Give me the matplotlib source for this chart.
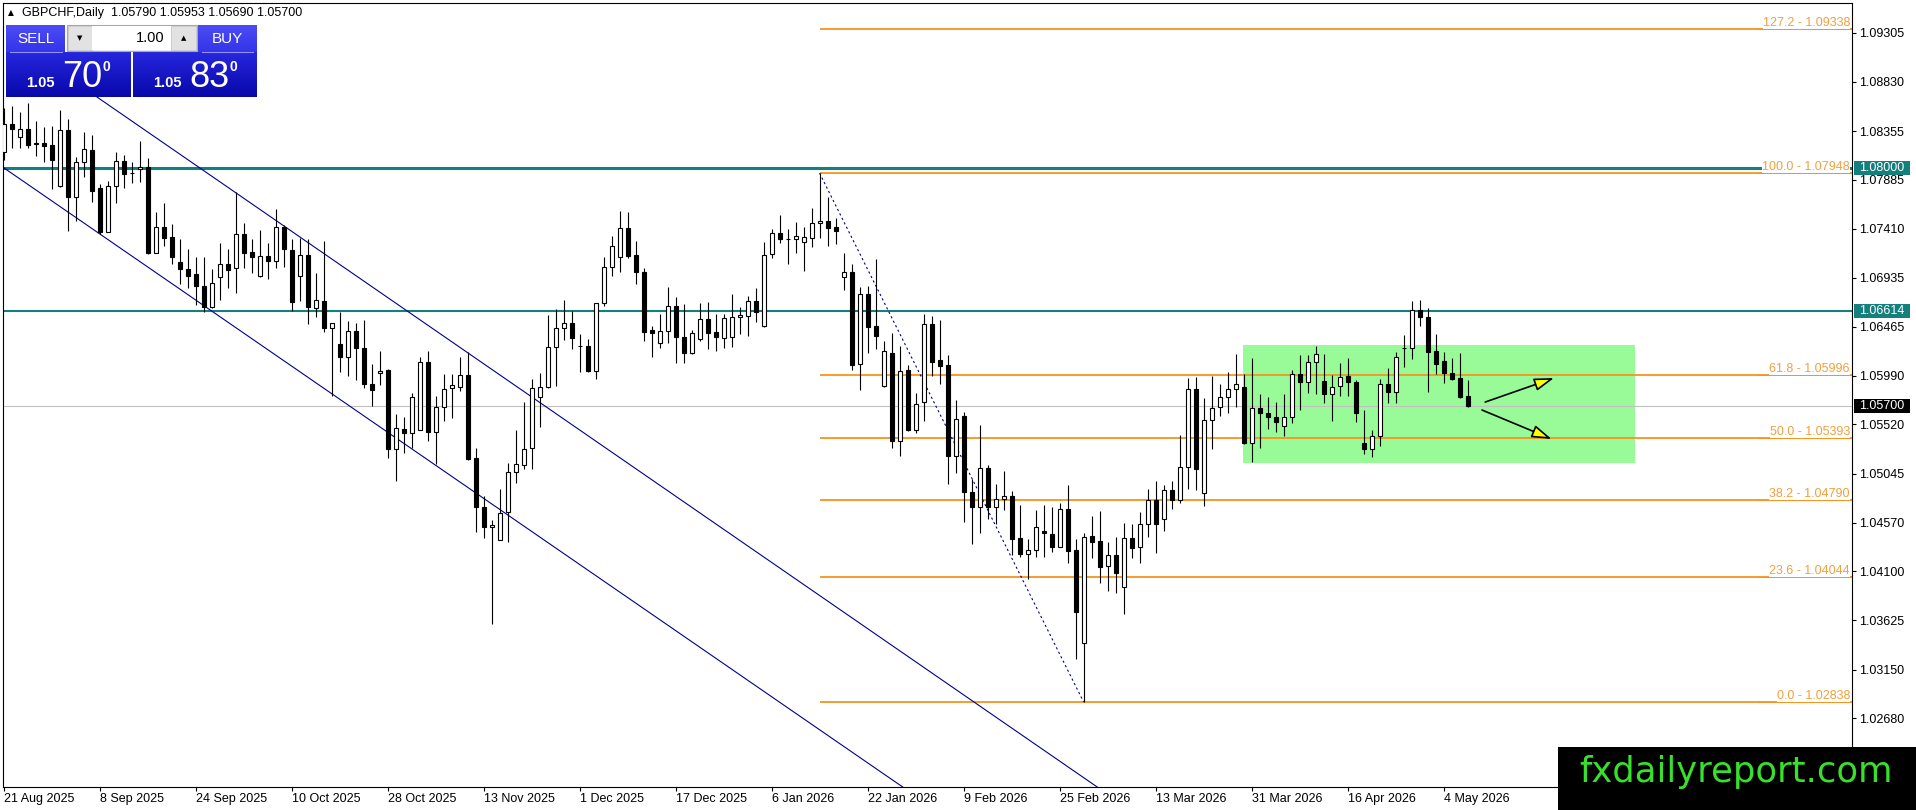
import numpy as np
import matplotlib
matplotlib.use('Agg')
import matplotlib.pyplot as plt
from matplotlib.patches import Rectangle
from matplotlib.colors import to_rgb

plt.rcParams['font.family'] = ['Liberation Sans', 'DejaVu Sans']
plt.rcParams['font.size'] = 9

# ---- data ----
symbol = 'GBPCHF,Daily'
last_ohlc = [1.05790, 1.05953, 1.05690, 1.05700]

opens = [1.08156, 1.08420, 1.08300, 1.08375, 1.08230, 1.08236, 1.08220, 1.07824, 1.08365, 1.07714,
         1.08053, 1.08172, 1.07801, 1.07383, 1.07824, 1.08065, 1.07946, 1.07988, 1.08008, 1.07180,
         1.07425, 1.07331, 1.07087, 1.07022, 1.06974, 1.06858, 1.06652, 1.06948, 1.07071, 1.07029,
         1.07357, 1.07183, 1.06957, 1.07147, 1.07102, 1.07424, 1.07205, 1.06957, 1.07157, 1.06642,
         1.06712, 1.06448, 1.06297, 1.06175, 1.06423, 1.06255, 1.05911, 1.06020, 1.06046, 1.05280,
         1.05473, 1.05434, 1.05466, 1.06120, 1.05444, 1.05685, 1.05869, 1.05885, 1.05997, 1.05199,
         1.04719, 1.04526, 1.04404, 1.04671, 1.05057, 1.05128, 1.05289, 1.05782, 1.05879, 1.06265,
         1.06449, 1.06497, 1.06278, 1.06278, 1.06040, 1.06696, 1.07044, 1.07141, 1.07414, 1.07157,
         1.06989, 1.06432, 1.06304, 1.06426, 1.06668, 1.06362, 1.06207, 1.06342, 1.06535, 1.06410,
         1.06352, 1.06368, 1.06555, 1.06572, 1.06713, 1.06475, 1.07164, 1.07367, 1.07309, 1.07309,
         1.07280, 1.07319, 1.07463, 1.07486, 1.07431, 1.06948, 1.06990, 1.06101, 1.06778, 1.06472,
         1.05895, 1.06208, 1.05364, 1.06047, 1.05467, 1.05734, 1.06488, 1.06143, 1.06095, 1.05219,
         1.05602, 1.04865, 1.04720, 1.05096, 1.04726, 1.04797, 1.04832, 1.04420, 1.04265, 1.04307,
         1.04491, 1.04458, 1.04339, 1.04700, 1.04307, 1.03406, 1.04442, 1.04394, 1.04156, 1.04259,
         1.03947, 1.04420, 1.04339, 1.04555, 1.04790, 1.04607, 1.04887, 1.04790, 1.05106, 1.05859,
         1.04861, 1.05563, 1.05685, 1.05782, 1.05859, 1.05878, 1.05338, 1.05676, 1.05627, 1.05589,
         1.05505, 1.05589, 1.06004, 1.05933, 1.06126, 1.05943, 1.05811, 1.05891, 1.05988, 1.05933,
         1.05338, 1.05280, 1.05412, 1.05908, 1.05837, 1.06258, 1.06255, 1.06626, 1.06555, 1.06229,
         1.06133, 1.06014, 1.05965, 1.05790]
highs = [1.08574, 1.08597, 1.08542, 1.08629, 1.08452, 1.08397, 1.08404, 1.08558, 1.08471, 1.08107,
         1.08346, 1.08317, 1.07840, 1.07872, 1.08156, 1.08123, 1.08059, 1.08262, 1.08091, 1.07570,
         1.07663, 1.07457, 1.07312, 1.07215, 1.07135, 1.07135, 1.07022, 1.07276, 1.07215, 1.07769,
         1.07463, 1.07308, 1.07398, 1.07276, 1.07598, 1.07447, 1.07308, 1.07324, 1.07308, 1.06980,
         1.07292, 1.06503, 1.06603, 1.06519, 1.06497, 1.06529, 1.06101, 1.06229, 1.06052, 1.05621,
         1.05589, 1.05827, 1.06175, 1.06229, 1.05795, 1.06007, 1.06007, 1.06175, 1.06223, 1.05289,
         1.04832, 1.04597, 1.04893, 1.05144, 1.05466, 1.05740, 1.05956, 1.06014, 1.06577, 1.06632,
         1.06722, 1.06619, 1.06394, 1.06342, 1.06696, 1.07134, 1.07340, 1.07582, 1.07575, 1.07292,
         1.07028, 1.06471, 1.06587, 1.06845, 1.06748, 1.06680, 1.06432, 1.06690, 1.06700, 1.06584,
         1.06587, 1.06777, 1.06659, 1.06762, 1.06836, 1.07280, 1.07406, 1.07544, 1.07409, 1.07473,
         1.07425, 1.07615, 1.07948, 1.07721, 1.07512, 1.07180, 1.07071, 1.06852, 1.06861, 1.07119,
         1.06327, 1.06401, 1.06279, 1.06095, 1.05821, 1.06588, 1.06572, 1.06530, 1.06192, 1.05757,
         1.05644, 1.04994, 1.05515, 1.05128, 1.04945, 1.05070, 1.04877, 1.04742, 1.04414, 1.04694,
         1.04742, 1.04719, 1.04765, 1.04935, 1.04414, 1.04468, 1.04636, 1.04687, 1.04388, 1.04436,
         1.04571, 1.04558, 1.04678, 1.04896, 1.04974, 1.04935, 1.04974, 1.05418, 1.05965, 1.05975,
         1.05772, 1.05988, 1.05908, 1.06023, 1.06200, 1.06004, 1.06159, 1.05811, 1.05782, 1.05734,
         1.05814, 1.06046, 1.06191, 1.06191, 1.06278, 1.06200, 1.05998, 1.06110, 1.06159, 1.05949,
         1.05660, 1.05466, 1.05956, 1.06062, 1.06217, 1.06384, 1.06716, 1.06722, 1.06648, 1.06394,
         1.06217, 1.06159, 1.06207, 1.05953]
lows = [1.08075, 1.08194, 1.08194, 1.08188, 1.08117, 1.08059, 1.07792, 1.07817, 1.07392, 1.07489,
        1.07914, 1.07673, 1.07357, 1.07376, 1.07663, 1.07801, 1.07856, 1.07859, 1.07164, 1.07180,
        1.07248, 1.07067, 1.06877, 1.06842, 1.06674, 1.06610, 1.06642, 1.06723, 1.06842, 1.06787,
        1.07029, 1.06986, 1.06947, 1.06928, 1.07034, 1.07044, 1.06616, 1.06712, 1.06487, 1.06561,
        1.06416, 1.05798, 1.06030, 1.05991, 1.05949, 1.05875, 1.05701, 1.05901, 1.05199, 1.04977,
        1.05241, 1.05289, 1.05466, 1.05363, 1.05138, 1.05556, 1.05585, 1.05846, 1.05176, 1.04484,
        1.04420, 1.03592, 1.04404, 1.04388, 1.04951, 1.05090, 1.05090, 1.05499, 1.05869, 1.05891,
        1.06336, 1.06249, 1.06023, 1.06023, 1.05956, 1.06668, 1.06954, 1.06996, 1.07125, 1.06874,
        1.06329, 1.06175, 1.06255, 1.06304, 1.06110, 1.06110, 1.06201, 1.06326, 1.06246, 1.06233,
        1.06255, 1.06271, 1.06391, 1.06378, 1.06514, 1.06465, 1.07125, 1.07270, 1.07071, 1.07174,
        1.07006, 1.07238, 1.07325, 1.07248, 1.07264, 1.06820, 1.06047, 1.05854, 1.06214, 1.06246,
        1.05879, 1.05290, 1.05219, 1.05460, 1.05441, 1.05554, 1.05992, 1.05911, 1.04946, 1.05049,
        1.04572, 1.04363, 1.04475, 1.04603, 1.04558, 1.04694, 1.04259, 1.04236, 1.04024, 1.04236,
        1.04243, 1.04291, 1.04333, 1.04178, 1.03254, 1.02838, 1.04227, 1.03985, 1.03914, 1.03895,
        1.03686, 1.04233, 1.04185, 1.04436, 1.04281, 1.04494, 1.04703, 1.04764, 1.04893, 1.04887,
        1.04735, 1.05283, 1.05605, 1.05634, 1.05692, 1.05328, 1.05154, 1.05289, 1.05473, 1.05450,
        1.05412, 1.05531, 1.05660, 1.05821, 1.05811, 1.05730, 1.05556, 1.05798, 1.05798, 1.05547,
        1.05231, 1.05209, 1.05315, 1.05730, 1.05724, 1.06078, 1.06152, 1.06474, 1.05837, 1.06004,
        1.05924, 1.05949, 1.05772, 1.05690]
closes = [1.08420, 1.08371, 1.08375, 1.08220, 1.08236, 1.08210, 1.08072, 1.08365, 1.07714, 1.08053,
          1.08181, 1.07779, 1.07383, 1.07824, 1.08065, 1.07943, 1.07950, 1.08008, 1.07180, 1.07425,
          1.07325, 1.07141, 1.07025, 1.06958, 1.06858, 1.06652, 1.06884, 1.07067, 1.07016, 1.07357,
          1.07180, 1.07134, 1.07147, 1.07102, 1.07424, 1.07211, 1.06699, 1.07157, 1.06651, 1.06722,
          1.06448, 1.06503, 1.06175, 1.06423, 1.06262, 1.05907, 1.05853, 1.06039, 1.05280, 1.05482,
          1.05434, 1.05782, 1.06120, 1.05450, 1.05685, 1.05859, 1.05901, 1.05997, 1.05186, 1.04719,
          1.04526, 1.04549, 1.04662, 1.05064, 1.05135, 1.05280, 1.05869, 1.05879, 1.06265, 1.06449,
          1.06497, 1.06352, 1.06278, 1.06036, 1.06696, 1.07044, 1.07247, 1.07414, 1.07150, 1.06989,
          1.06416, 1.06400, 1.06426, 1.06668, 1.06362, 1.06207, 1.06407, 1.06535, 1.06407, 1.06368,
          1.06545, 1.06561, 1.06578, 1.06713, 1.06610, 1.07158, 1.07367, 1.07309, 1.07312, 1.07341,
          1.07328, 1.07463, 1.07486, 1.07422, 1.07393, 1.06990, 1.06095, 1.06778, 1.06465, 1.06378,
          1.06230, 1.05364, 1.06037, 1.05467, 1.05715, 1.06488, 1.06127, 1.06089, 1.05219, 1.05570,
          1.04862, 1.04720, 1.05097, 1.04726, 1.04797, 1.04832, 1.04414, 1.04265, 1.04307, 1.04533,
          1.04468, 1.04339, 1.04700, 1.04301, 1.03711, 1.04430, 1.04388, 1.04146, 1.04259, 1.04088,
          1.04420, 1.04330, 1.04555, 1.04790, 1.04558, 1.04887, 1.04790, 1.05106, 1.05859, 1.05090,
          1.05563, 1.05676, 1.05782, 1.05859, 1.05908, 1.05338, 1.05676, 1.05627, 1.05589, 1.05547,
          1.05589, 1.06004, 1.05933, 1.06126, 1.06200, 1.05811, 1.05885, 1.05982, 1.05927, 1.05627,
          1.05280, 1.05412, 1.05908, 1.05830, 1.06175, 1.06262, 1.06626, 1.06561, 1.06223, 1.06101,
          1.06014, 1.05956, 1.05788, 1.05700]

date_labels = ['21 Aug 2025', '8 Sep 2025', '24 Sep 2025', '10 Oct 2025', '28 Oct 2025',
               '13 Nov 2025', '1 Dec 2025', '17 Dec 2025', '6 Jan 2026', '22 Jan 2026',
               '9 Feb 2026', '25 Feb 2026', '13 Mar 2026', '31 Mar 2026', '16 Apr 2026',
               '4 May 2026']
bars_per_label = 12

price_ticks = [1.09305, 1.08830, 1.08355, 1.07885, 1.07410, 1.06935, 1.06465, 1.05990,
               1.05520, 1.05045, 1.04570, 1.04100, 1.03625, 1.03150, 1.02680]

fib_levels = [127.2, 100.0, 61.8, 50.0, 38.2, 23.6, 0.0]
fib_prices = [1.09338, 1.07948, 1.05996, 1.05393, 1.04790, 1.04044, 1.02838]
fib_from_bar, fib_to_bar = 102, 135

teal_levels = [1.08000, 1.06614]
current_price = 1.05700
bid_digits, ask_digits = '70', '83'
lot_size = '1.00'

# trend channel, range box and arrows (bar index, price)
channel_upper = ([10, 140], [1.08773, 1.01840])
channel_lower = ([-1, 115], [1.08054, 1.01877])
range_box = ([154.9, 203.9], [1.05150, 1.06287])
arrow_up = ([185.2, 193.8], [1.05736, 1.05968])
arrow_down = ([184.8, 193.5], [1.05659, 1.05379])

# ---- figure ----
W, H, DPI = 1916, 810, 100
fig = plt.figure(figsize=(W / DPI, H / DPI), dpi=DPI, facecolor='white')
ax_l, ax_r, ax_t, ax_b = 2.7, 1852, 2.7, 787
ax = fig.add_axes([ax_l / W, (H - ax_b) / H, (ax_r - ax_l) / W, (ax_b - ax_t) / H])
ax.set_xlim(-0.11, 231.05)
ax.set_ylim(1.02016, 1.09595)


def fx(px):
    # pixel column -> axes fraction
    return (px - ax_l) / (ax_r - ax_l)


px_price = (1.09595 - 1.02016) / (ax_b - ax_t)
tr = ax.get_yaxis_transform()

teal = '#13807e'
navy = '#000090'
fib_col = '#F7931E'
fib_txt = '#F0A040'

# range box
ax.add_patch(Rectangle((range_box[0][0], range_box[1][0]), range_box[0][1] - range_box[0][0],
                       range_box[1][1] - range_box[1][0], fc='#98FB98', ec='none', zorder=1))

ax.axhline(current_price, color='#C0C0C0', lw=0.8, zorder=1.5)
ax.axhline(teal_levels[0], color=teal, lw=2.2, zorder=2)
ax.axhline(teal_levels[1], color=teal, lw=1.5, zorder=2)

ax.hlines(fib_prices, fib_from_bar, 232, color=fib_col, lw=1.3, zorder=2)
ax.plot([fib_from_bar, fib_to_bar], [fib_prices[1], fib_prices[-1]], color=navy, lw=0.8,
        ls=(0, (2, 2.5)), zorder=2.5)

ax.plot(*channel_upper, color=navy, lw=0.8, zorder=2.5)
ax.plot(*channel_lower, color=navy, lw=0.8, zorder=2.5)

# candles
o, h, l, c = (np.array(v) for v in (opens, highs, lows, closes))
x = np.arange(len(o))
bull = c >= o
ax.vlines(x, l, h, color='black', lw=0.8, zorder=3)
body_lo = np.minimum(o, c)
body_h = np.maximum(np.abs(c - o), 0.00003)
ax.bar(x, body_h, bottom=body_lo, width=0.5, color=np.where(bull, 'white', 'black'),
       edgecolor='black', linewidth=0.8, zorder=4)

# arrows
for arr in (arrow_up, arrow_down):
    ax.annotate('', xy=(arr[0][1], arr[1][1]), xytext=(arr[0][0], arr[1][0]),
                arrowprops=dict(arrowstyle='-|>,head_length=1.0,head_width=0.32', mutation_scale=12,
                                fc='#FFFF00', ec='black', lw=1.2, shrinkA=0, shrinkB=0), zorder=5)

# fib labels (white background hides part of the line, as in the terminal)
for lv, pr in zip(fib_levels, fib_prices):
    ax.text(fx(1850), pr + 3 * px_price, f'{lv:.1f} - {pr:.5f}', transform=tr, ha='right',
            va='baseline', color=fib_txt, zorder=6, bbox=dict(fc='white', ec='none', pad=0))
    ax.plot([fx(1758), fx(1852)], [pr, pr], transform=tr, color=fib_col, lw=0.7, zorder=6.5)

# axes styling
for s in ax.spines.values():
    s.set_color('black')
    s.set_linewidth(0.8)
ax.yaxis.tick_right()
ax.set_yticks(price_ticks)
ax.set_yticklabels([f'{p:.5f}' for p in price_ticks])
ax.tick_params(axis='y', direction='out', length=3, width=0.8, pad=2.2, labelsize=9)
ax.set_xticks(range(0, bars_per_label * len(date_labels), bars_per_label))
ax.set_xticklabels(date_labels, ha='left')
ax.tick_params(axis='x', direction='out', length=3, width=0.8, pad=1.5, labelsize=9)


def axis_tag(price, fc):
    hh = 7 * px_price
    ax.add_patch(Rectangle((fx(1854), price - hh), fx(1910) - fx(1854), 2 * hh, transform=tr,
                           fc=fc, ec='none', clip_on=False, zorder=6))
    ax.text(fx(1859), price, f'{price:.5f}', transform=tr, color='white', ha='left',
            va='center', zorder=7, clip_on=False)


for lv in teal_levels:
    axis_tag(lv, teal)
axis_tag(current_price, 'black')

# ---- overlay in pixel coordinates: header, trade panel, watermark ----
ov = fig.add_axes([0, 0, 1, 1], zorder=10)
ov.axis('off')


def grad_box(x0, y0, x1, y1, top, bottom):
    t = np.linspace(0, 1, 32)[:, None, None]
    col = np.array(to_rgb(top)) * (1 - t) + np.array(to_rgb(bottom)) * t
    ov.imshow(col, extent=(x0, x1, y1, y0), aspect='auto', interpolation='bilinear', zorder=1)


ov.text(11, 13, '\u25B2', fontsize=5.5, ha='center', va='center', family='DejaVu Sans')
ov.text(22, 13, symbol + '  ' + ' '.join(f'{v:.5f}' for v in last_ohlc), ha='left', va='center')

# sell / buy buttons
grad_box(6, 25, 65, 52, '#4c4cf6', '#3434ea')
grad_box(198, 25, 257, 52, '#4c4cf6', '#3434ea')
grad_box(6, 52, 131, 97, '#2626de', '#0808aa')
grad_box(133, 52, 257, 97, '#2626de', '#0808aa')
ov.plot([10, 62], [52, 52], color='#9090f0', lw=0.8, zorder=2)
ov.plot([202, 253], [52, 52], color='#9090f0', lw=0.8, zorder=2)
ov.text(35.5, 39, 'SELL', color='white', fontsize=11, ha='center', va='center', zorder=3)
ov.text(227.5, 39, 'BUY', color='white', fontsize=11, ha='center', va='center', zorder=3)

# lot size control
ov.add_patch(Rectangle((67, 25), 130, 26, fc='#F0F0F0', ec='#A8A8A8', lw=0.8, zorder=2))
ov.add_patch(Rectangle((68, 26), 24, 24, fc='#E2E2E2', ec='#C8C8C8', lw=0.6, zorder=2))
ov.add_patch(Rectangle((171, 26), 25, 24, fc='#E2E2E2', ec='#C8C8C8', lw=0.6, zorder=2))
ov.add_patch(Rectangle((92, 26), 79, 24, fc='white', ec='none', zorder=2))
ov.text(80, 38, '\u25BC', fontsize=5, ha='center', va='center', family='DejaVu Sans', zorder=3)
ov.text(183.5, 38, '\u25B2', fontsize=5, ha='center', va='center', family='DejaVu Sans', zorder=3)
ov.text(165, 38, lot_size, fontsize=10.5, ha='right', va='center', zorder=3)

for bx, digits in ((26, bid_digits), (153, ask_digits)):
    ov.text(bx, 87, '1.05', color='white', fontsize=10.5, fontweight='bold', ha='left',
            va='baseline', zorder=3)
    ov.text(bx + 36, 87, digits, color='white', fontsize=26, ha='left', va='baseline', zorder=3)
    ov.text(bx + 77, 71, '0', color='white', fontsize=10, fontweight='bold', ha='left',
            va='baseline', zorder=3)

# watermark
ov.add_patch(Rectangle((1558, 747), W - 1558, H - 747, fc='black', ec='none', zorder=2))
ov.text(1736, 782, 'fxdailyreport.com', color='#38E02C', fontsize=25.5, family='DejaVu Sans',
        ha='center', va='baseline', zorder=3)

ov.set_xlim(0, W)
ov.set_ylim(H, 0)

fig.savefig('out.png', dpi=DPI, facecolor='white')
